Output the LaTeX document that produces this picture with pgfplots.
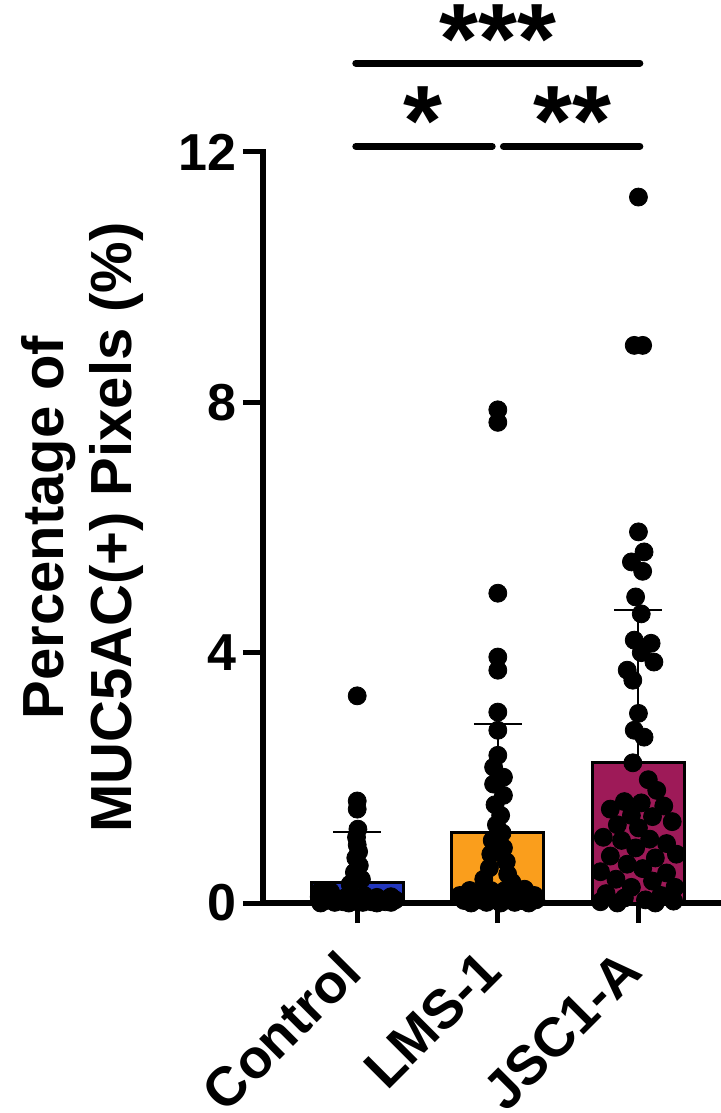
\documentclass[border=0pt]{standalone}
\usepackage{fontspec}
\setmainfont{Liberation Sans}
\usepackage{pgfplots}
\pgfplotsset{compat=1.18}
\definecolor{ctrlblue}{RGB}{35,55,190}
\definecolor{lmsorange}{RGB}{250,158,28}
\definecolor{jscmaroon}{RGB}{158,26,88}

\begin{document}
\begin{tikzpicture}
\useasboundingbox (-131.5pt,-105pt) rectangle (228.5pt,451.5pt);
\begin{axis}[
  at={(0pt,0pt)}, anchor=south west,
  scale only axis, width=228.5pt, height=375.5pt,
  xmin=-0.67, xmax=2.58, ymin=0, ymax=12,
  axis x line*=bottom, axis y line*=left,
  axis line style={-, line width=3pt, line cap=rect},
  xtick={0,1,2}, xticklabels={Control,LMS-1,JSC1-A},
  ytick={0,4,8,12}, yticklabels={0,4,8,12},
  minor tick num=0,
  tick align=outside, major tick length=10pt,
  tick style={black, line width=2.5pt},
  ticklabel style={font=\bfseries\fontsize{26}{30}\selectfont},
  xticklabel style={font=\bfseries\fontsize{27.5}{32}\selectfont,
    rotate=45, anchor=north east, inner sep=2pt, xshift=-14pt, yshift=1pt},
  ylabel={Percentage of\\MUC5AC(+) Pixels (\%)},
  ylabel style={at={(axis description cs:-0.394,0.5)}, anchor=center,
    align=center, font=\bfseries\fontsize{29}{34}\selectfont},
  clip=false,
]

% bars with mean + SD
\addplot[ybar, bar width=0.655, bar shift=0pt, fill=ctrlblue, draw=black, line width=1.5pt,
  error bars/.cd, y dir=plus, y explicit,
  error bar style={line width=1pt, black},
  error mark options={rotate=90, line width=1pt, mark size=12pt, black}]
  coordinates {(0,0.33) +- (0,0.80)};
\addplot[ybar, bar width=0.655, bar shift=0pt, fill=lmsorange, draw=black, line width=1.5pt,
  error bars/.cd, y dir=plus, y explicit,
  error bar style={line width=1pt, black},
  error mark options={rotate=90, line width=1pt, mark size=12pt, black}]
  coordinates {(1,1.13) +- (0,1.73)};
\addplot[ybar, bar width=0.655, bar shift=0pt, fill=jscmaroon, draw=black, line width=1.5pt,
  error bars/.cd, y dir=plus, y explicit,
  error bar style={line width=1pt, black},
  error mark options={rotate=90, line width=1pt, mark size=12pt, black}]
  coordinates {(2,2.25) +- (0,2.43)};

% individual values
\addplot[only marks, mark=*, mark size=4.5pt, black] table {
x y
0.000 3.31
0.000 1.63
0.000 1.50
0.005 1.18
-0.005 1.05
0.000 0.93
0.010 0.82
-0.010 0.72
0.015 0.60
-0.020 0.49
0.030 0.38
-0.050 0.30
-0.260 0.20
-0.190 0.18
-0.270 0.10
-0.170 0.10
-0.070 0.11
0.050 0.12
0.140 0.09
0.240 0.10
-0.220 0.04
-0.120 0.05
-0.020 0.04
0.090 0.05
0.190 0.04
0.270 0.05
-0.260 0.00
-0.160 0.01
-0.060 0.00
0.040 0.01
0.140 0.00
0.240 0.01
-0.100 0.02
0.000 0.02
0.100 0.02
0.200 0.02
};
\addplot[only marks, mark=*, mark size=4.5pt, black] table {
x y
1.00 7.88
1.00 7.68
1.00 4.95
1.00 3.93
1.00 3.72
1.00 3.05
1.00 2.76
1.00 2.36
0.97 2.17
1.04 2.01
0.97 1.90
1.04 1.72
0.98 1.57
1.02 1.40
0.99 1.25
1.03 1.12
0.96 1.00
1.04 0.88
0.95 0.78
1.06 0.66
0.94 0.56
1.07 0.46
0.90 0.38
1.10 0.33
0.80 0.20
1.19 0.22
0.73 0.12
0.85 0.14
1.15 0.13
1.26 0.12
0.95 0.20
1.05 0.20
0.76 0.04
0.87 0.05
0.97 0.06
1.07 0.05
1.17 0.04
1.27 0.05
0.81 0.00
0.92 0.01
1.02 0.00
1.12 0.01
1.22 0.00
};
\addplot[only marks, mark=*, mark size=4.5pt, black] table {
x y
2.00 11.28
1.97 8.91
2.03 8.91
2.00 5.93
2.04 5.61
1.95 5.45
2.03 5.30
1.98 4.89
2.02 4.62
1.97 4.20
2.09 4.15
2.02 4.00
2.11 3.85
1.92 3.72
1.96 3.56
2.00 3.03
1.97 2.76
2.04 2.65
1.96 2.24
2.07 1.97
2.13 1.80
1.90 1.62
2.02 1.60
2.18 1.55
1.80 1.50
1.95 1.40
2.10 1.38
2.24 1.30
1.85 1.25
2.00 1.20
1.75 1.05
1.88 1.00
2.08 1.02
2.20 0.95
1.98 0.88
2.27 0.78
1.80 0.75
2.12 0.72
1.92 0.62
2.03 0.55
1.73 0.50
2.20 0.48
1.84 0.38
2.10 0.35
2.26 0.25
1.95 0.25
1.77 0.15
2.16 0.12
1.90 0.08
2.05 0.05
2.25 0.03
1.73 0.02
1.85 0.00
2.12 0.00
};

% significance annotations
\draw[line width=3.5pt, line cap=round] (axis cs:-0.01,13.42) -- (axis cs:2.01,13.42);
\draw[line width=3.5pt, line cap=round] (axis cs:-0.01,12.09) -- (axis cs:0.96,12.09);
\draw[line width=3.5pt, line cap=round] (axis cs:1.04,12.09) -- (axis cs:2.01,12.09);
\node[font=\bfseries\fontsize{50}{50}\selectfont, anchor=base] at (axis cs:1,13.25) {***};
\node[font=\bfseries\fontsize{50}{50}\selectfont, anchor=base] at (axis cs:0.47,11.94) {*};
\node[font=\bfseries\fontsize{50}{50}\selectfont, anchor=base] at (axis cs:1.53,11.94) {**};
\end{axis}
\end{tikzpicture}
\end{document}
